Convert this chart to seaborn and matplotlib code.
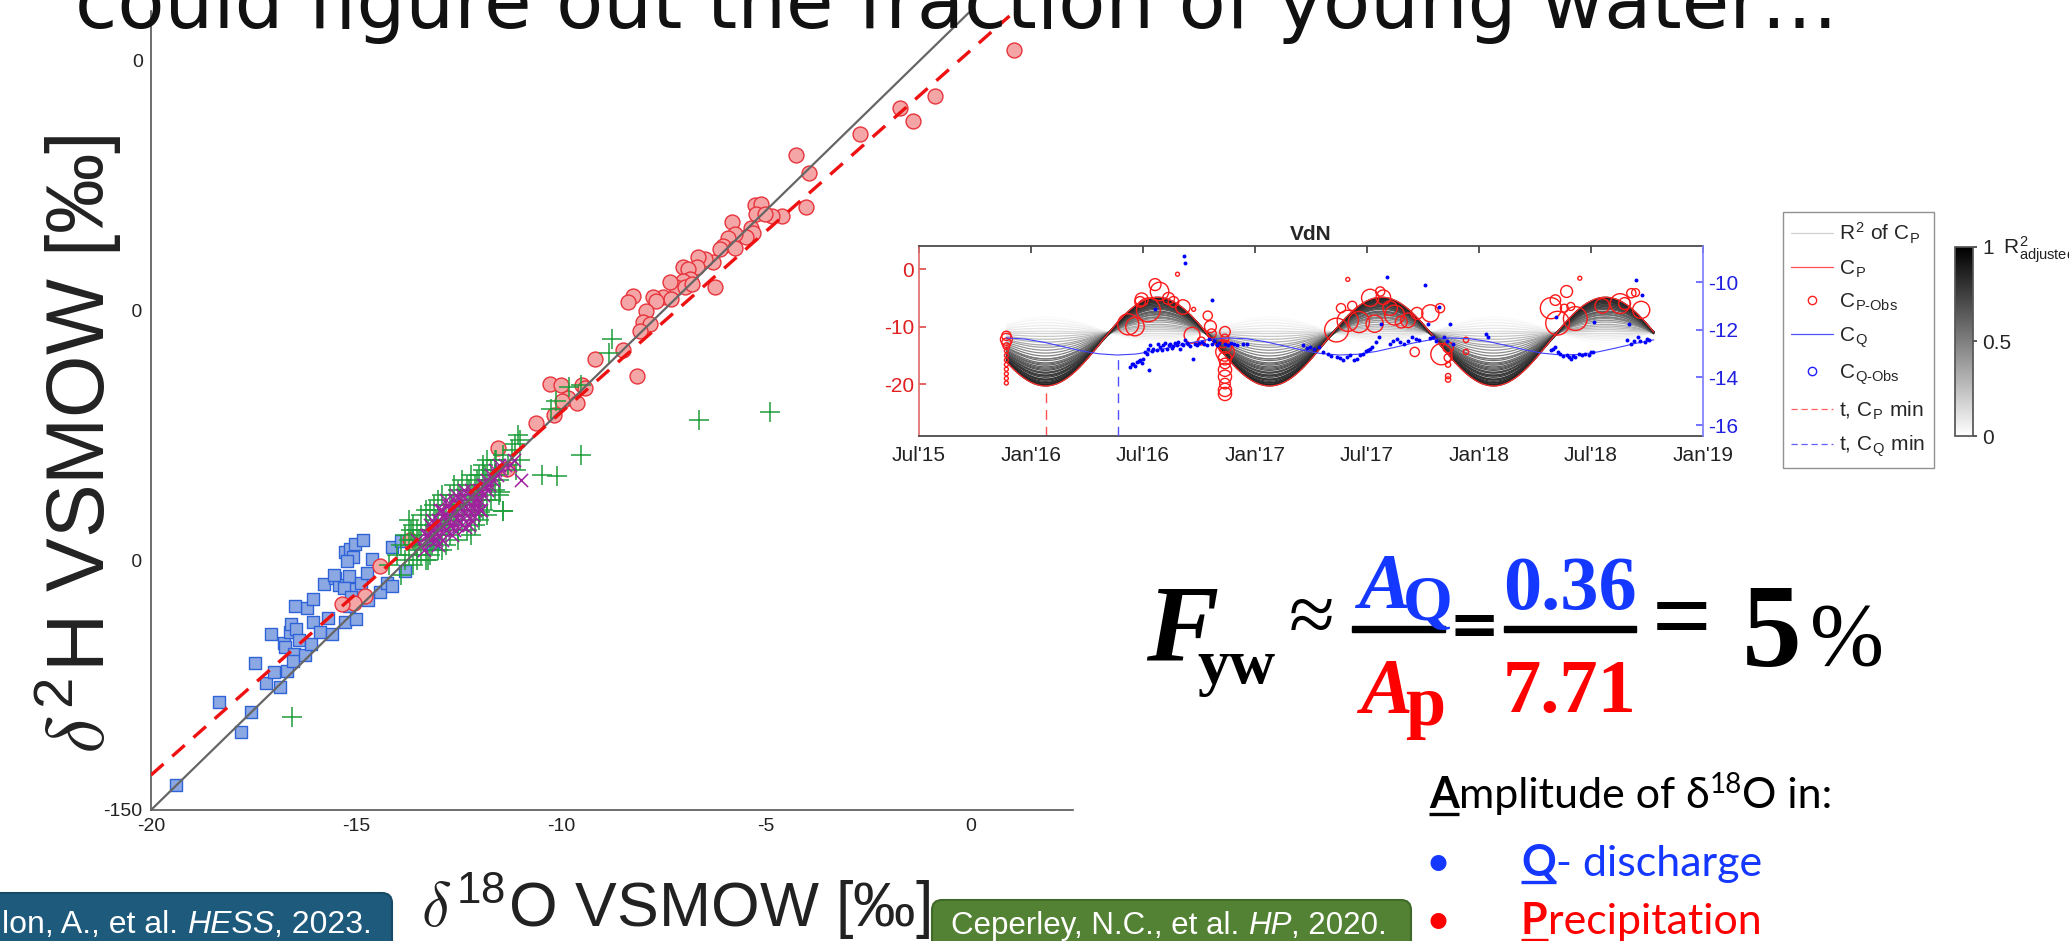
import matplotlib
matplotlib.use("Agg")
import matplotlib.pyplot as plt
import numpy as np
import seaborn as sns
from matplotlib.lines import Line2D
from matplotlib.patches import FancyBboxPatch, Rectangle
from matplotlib.cm import ScalarMappable
from matplotlib.colors import Normalize

W, H = 2069, 941

# ---------------- main dual-isotope plot (d18O vs d2H, permil) ----------------
precip_x = [1.06, -0.87, -1.71, -1.41, -2.71, -4.25, -3.94, -4.02, -4.59, -4.84, -5.27, -5.11,
            -5.23, -5.02, -5.35, -5.31, -5.47, -5.82, -5.76, -5.92, -6.04, -6.12, -5.76, -6.29,
            -6.49, -6.65, -7.02, -6.67, -6.89, -6.85, -7.02, -7.18, -7.34, -6.98, -6.79, -6.23,
            -7.50, -7.30, -7.75, -7.67, -8.24, -8.36, -7.91, -7.99, -7.83, -8.07, -8.48, -8.13,
            -9.17, -10.27, -10.00, -9.49, -9.41, -9.83, -9.98, -9.61, -10.17, -10.61, -11.54,
            -11.32, -14.41, -14.78, -15.05, -15.34, -13.68]
precip_y = [2.2, -7.0, -9.5, -12.0, -14.7, -18.8, -22.5, -29.3, -31.0, -31.1, -28.8, -28.7,
            -30.7, -30.7, -33.5, -34.5, -35.3, -32.3, -34.7, -35.5, -37.1, -37.7, -37.5, -40.2,
            -39.7, -39.3, -41.2, -41.3, -41.7, -43.7, -44.0, -45.3, -44.3, -45.3, -44.7, -45.3,
            -47.2, -47.7, -47.3, -48.0, -47.0, -48.3, -50.0, -52.3, -52.7, -54.0, -57.9, -63.0,
            -59.6, -64.6, -64.8, -64.8, -65.4, -67.4, -68.0, -68.4, -71.0, -72.6, -77.6,
            -81.8, -101.2, -107.2, -108.6, -108.8, -96.0]

snow_x = [-19.40, -17.80, -17.56, -18.33, -17.46, -17.19, -16.86, -17.01, -16.69, -17.08, -16.76,
          -16.74, -16.61, -16.58, -16.45, -16.51, -16.54, -16.39, -16.23, -16.19, -16.48, -16.04,
          -16.04, -16.10, -15.87, -15.69, -15.58, -15.77, -15.50, -15.42, -15.54, -15.27, -15.15,
          -15.02, -14.83, -15.08, -15.22, -15.18, -15.02, -14.87, -14.61, -14.72, -14.40, -14.25,
          -14.11, -13.80, -14.13, -13.90, -15.27, -14.99, -15.30, -15.12, -14.71, -13.13, -15.16]
snow_y = [-145.0, -134.3, -130.3, -128.3, -120.5, -124.5, -125.3, -122.3, -122.2, -114.7, -116.5,
          -117.3, -114.3, -112.7, -113.7, -118.7, -120.1, -116.0, -119.0, -109.5, -109.2, -107.8,
          -112.3, -116.8, -114.3, -111.5, -114.8, -104.7, -103.5, -105.0, -103.0, -98.3, -97.7,
          -96.7, -95.9, -99.3, -100.2, -103.2, -105.7, -104.5, -99.7, -102.5, -106.3, -104.5,
          -105.2, -102.1, -97.3, -96.1, -112.3, -111.8, -105.5, -107.3, -108.0, -96.7, -109.2]

stream_x = [-13.9, -13.8, -13.7, -13.6, -13.6, -13.5, -13.5, -13.4, -13.4, -13.3, -13.3, -13.2,
            -13.2, -13.1, -13.1, -13.0, -13.0, -13.0, -12.9, -12.9, -12.8, -12.8, -12.7, -12.7,
            -12.6, -12.6, -12.5, -12.5, -12.4, -12.4, -12.3, -12.3, -12.2, -12.2, -12.1, -12.1,
            -12.0, -12.0, -11.9, -11.9, -11.8, -11.8, -11.7, -11.7, -11.6, -11.6, -11.5, -12.9,
            -13.7, -12.5, -12.0, -11.8, -11.9, -13.3, -12.2,
            -14.2, -14.0, -13.9, -13.8, -13.7, -13.6, -13.5, -13.4, -13.3, -13.2, -13.1, -13.0,
            -12.9, -12.8, -12.7, -12.6, -12.5, -12.4, -12.3, -12.2, -12.1, -12.0, -11.9, -11.8,
            -11.7, -11.6, -11.5, -11.4, -11.3, -11.2, -11.1, -11.0, -13.65, -13.45, -13.25,
            -13.05, -12.85, -12.65, -12.45, -12.25, -12.05, -11.85, -11.65, -12.75, -12.35,
            -11.95, -13.15, -13.55, -12.55, -12.15,
            -8.74, -8.82, -4.89, -6.63, -9.50, -10.47, -10.09, -11.41, -9.80, -9.50, -10.12,
            -10.23, -11.04, -11.12, -11.00, -11.57, -11.49, -16.57, -13.24, -11.41, -11.98]
stream_y = [-97, -95, -99, -96, -93, -98, -94, -95, -91, -97, -93, -95,
            -90, -93, -96, -91, -94, -88, -92, -95, -89, -93, -91, -87,
            -93, -89, -90, -86, -92, -88, -89, -85, -87, -91, -85, -89,
            -87, -83, -86, -90, -84, -88, -85, -82, -86, -83, -84, -98,
            -92, -94, -91, -80, -81, -100, -95,
            -101, -99, -103, -100, -96, -101, -100, -99, -90, -99, -89, -98,
            -87, -97, -95, -85, -96, -84, -94, -83, -93, -92, -82, -91,
            -88, -80, -87, -79, -81, -78, -82, -80, -94, -96, -94,
            -92, -91, -89, -87, -86, -84, -83, -84, -93, -90,
            -88, -97, -97, -91, -87,
            -55.7, -58.5, -70.3, -71.9, -79.0, -83.0, -83.2, -90.2, -65.3, -64.8, -68.0,
            -69.7, -75.0, -76.7, -75.9, -80.0, -86.3, -131.3, -100.0, -90.1, -90.3]

gw_x = [-13.4, -13.3, -13.2, -13.2, -13.1, -13.0, -13.0, -12.9, -12.9, -12.8, -12.8, -12.7,
        -12.7, -12.6, -12.6, -12.5, -12.5, -12.4, -12.4, -12.3, -12.3, -12.2, -12.2, -12.1,
        -12.1, -12.0, -12.0, -11.9, -11.9, -11.8, -11.8, -11.7, -12.6, -13.0, -12.4, -12.8,
        -11.6, -11.5, -12.9, -12.2, -10.98, -12.34, -11.98,
        -13.5, -13.35, -13.25, -13.15, -13.05, -12.95, -12.85, -12.75, -12.65, -12.55, -12.45,
        -12.35, -12.25, -12.15, -12.05, -11.95, -11.85, -11.75, -11.65, -11.55, -11.45, -11.35,
        -11.25, -11.15, -12.75, -12.55, -12.35, -12.95, -13.15, -12.25, -11.95, -12.65, -13.05,
        -12.45, -12.15]
gw_y = [-97, -95, -96, -93, -94, -95, -92, -93, -90, -92, -94, -90,
        -93, -91, -88, -92, -89, -90, -87, -91, -88, -89, -86, -88,
        -90, -86, -88, -85, -87, -84, -86, -83, -94, -97, -93, -88,
        -82, -81, -96, -92, -84.0, -93.3, -90.0,
        -96, -98, -95, -92, -96, -94, -91, -92, -90, -93, -88,
        -89, -90, -87, -89, -86, -85, -85, -84, -83, -82, -81,
        -81, -80, -89, -87, -86, -90, -95, -93, -90, -95, -93,
        -91, -91]

gmwl_x = [-20, 0]
gmwl_y = [-150, 10]
lmwl_x = [-20, 0.95]
lmwl_y = [-143, 9]

main_xticks = [-20, -15, -10, -5, 0]
main_yticks = [-150, -100, -50, 0]

# ---------------- inset: VdN seasonal sine fits ----------------
inset_xticks = [2015.5, 2016.0, 2016.5, 2017.0, 2017.5, 2018.0, 2018.5, 2019.0]
inset_xlabels = ["Jul'15", "Jan'16", "Jul'16", "Jan'17", "Jul'17", "Jan'18", "Jul'18", "Jan'19"]

fit_start, fit_end = 2015.89, 2018.78
cp_amp, cp_off, cp_trough = 7.71, -12.6, 2016.065
cq_amp, cq_off, cq_trough = 0.36, -12.7, 2016.39

ens_amp = [-2.2, -1.8, -1.4, -1.0, -0.6, -0.2, 0.2, 0.6, 1.0, 1.4, 1.8, 2.2, 2.6, 3.0, 3.4, 3.8,
           4.1, 4.4, 4.7, 5.0, 5.3, 5.5, 5.7, 5.9, 6.1, 6.3, 6.5, 6.7, 6.9, 7.0, 7.2, 7.3, 7.4,
           7.5, 7.6, 7.7, 6.0, 6.6, 7.1, 5.6, 4.9, 4.3, 3.6]
ens_off = [-10.6, -10.6, -10.7, -10.8, -10.9, -11.0, -11.0, -11.1, -11.2, -11.3, -11.4, -11.4,
           -11.5, -11.6, -11.7, -11.8, -11.8, -11.9, -12.0, -12.0, -12.1, -12.1, -12.2, -12.2,
           -12.3, -12.3, -12.3, -12.4, -12.4, -12.5, -12.5, -12.5, -12.6, -12.6, -12.6, -12.6,
           -12.5, -12.6, -12.7, -12.4, -12.3, -12.2, -12.0]
ens_r2 = [0.02, 0.04, 0.06, 0.08, 0.10, 0.14, 0.18, 0.22, 0.26, 0.30, 0.34, 0.38, 0.42, 0.46,
          0.50, 0.53, 0.56, 0.59, 0.62, 0.65, 0.67, 0.69, 0.71, 0.73, 0.75, 0.77, 0.78, 0.79,
          0.80, 0.81, 0.82, 0.83, 0.84, 0.85, 0.86, 0.87, 0.74, 0.79, 0.82, 0.70, 0.63, 0.58, 0.52]

cp_obs_t = [2015.89] * 12 + [
    2016.434, 2016.464, 2016.494, 2016.487, 2016.524, 2016.554, 2016.574, 2016.614, 2016.636,
    2016.678, 2016.654, 2016.726, 2016.719, 2016.789, 2016.801, 2016.806, 2016.760] + [2016.866] * 11 + [
    2016.856,
    2017.364, 2017.414, 2017.434, 2017.464, 2017.514, 2017.534, 2017.573, 2017.559, 2017.603,
    2017.623, 2017.653, 2017.683, 2017.723, 2017.783, 2017.826, 2017.713, 2017.414, 2017.384,
    2017.832, 2017.862, 2017.862, 2017.862, 2017.862, 2017.862, 2017.942, 2017.942,
    2018.321, 2018.341, 2018.391, 2018.381, 2018.410, 2018.351, 2018.430, 2018.450, 2018.550,
    2018.630, 2018.650, 2018.680, 2018.699, 2018.724]
cp_obs_v = [-11.6, -12.2, -12.8, -13.4, -14.2, -15.0, -15.8, -16.6, -17.4, -18.2, -19.0, -19.8,
            -9.6, -10.0, -5.3, -5.7, -7.1, -2.7, -3.9, -5.1, -5.7, -6.6, -0.9, -7.0, -11.5, -8.1,
            -10.0, -11.2, -12.5,
            -10.9, -12.0, -13.5, -14.4, -15.5, -16.4, -17.5, -18.7, -19.9, -21.0, -21.7, -13.0,
            -10.6, -9.0, -6.4, -9.2, -5.0, -9.5, -4.9, -3.9, -6.8, -8.0, -9.2, -8.9, -7.7, -7.7,
            -6.8, -14.4, -1.8, -6.8,
            -14.8, -13.6, -15.4, -16.6, -18.6, -19.2, -12.3, -14.4,
            -6.8, -5.4, -3.9, -6.8, -6.5, -9.4, -8.6, -1.6, -6.4, -6.0, -6.0, -4.2, -4.1, -7.1]
cp_obs_d = [7, 9, 7, 5, 3, 3, 3, 3, 3, 3, 3, 3,
            16, 14, 10, 8, 18, 9, 14, 9, 8, 11, 3, 3, 12, 7, 9, 7, 6,
            8, 6, 10, 14, 10, 8, 10, 10, 8, 10, 10, 6,
            18, 16, 7, 16, 13, 13, 11, 7, 11, 15, 9, 11, 9, 13, 7, 7, 3, 7,
            16, 8, 6, 4, 4, 4, 4, 4,
            16, 8, 9, 6, 6, 18, 18, 3, 11, 15, 9, 7, 6, 13]

cq_obs_t = [2016.442, 2016.450, 2016.457, 2016.465, 2016.472, 2016.480, 2016.487, 2016.495,
            2016.502, 2016.509, 2016.516, 2016.524, 2016.528, 2016.531, 2016.538, 2016.546,
            2016.554, 2016.561, 2016.568, 2016.576, 2016.584, 2016.591, 2016.598, 2016.606,
            2016.614, 2016.621, 2016.628, 2016.635, 2016.643, 2016.650, 2016.658, 2016.665,
            2016.672, 2016.680, 2016.685, 2016.686, 2016.688, 2016.695, 2016.702, 2016.710,
            2016.722, 2016.730, 2016.740, 2016.750, 2016.762, 2016.772, 2016.784, 2016.795,
            2016.806, 2016.807, 2016.818, 2016.829, 2016.840, 2016.866, 2016.880, 2016.895,
            2016.906, 2016.920, 2016.946, 2016.966, 2017.215, 2017.230, 2017.245, 2017.265,
            2017.285, 2017.305, 2017.324, 2017.340, 2017.364, 2017.380, 2017.394, 2017.410,
            2017.424, 2017.440, 2017.454, 2017.470, 2017.484, 2017.494, 2017.504, 2017.514,
            2017.524, 2017.540, 2017.554, 2017.564, 2017.588, 2017.603, 2017.618, 2017.633,
            2017.648, 2017.663, 2017.683, 2017.703, 2017.718, 2017.733, 2017.759, 2017.773,
            2017.783, 2017.793, 2017.808, 2017.823, 2017.843, 2017.858, 2017.872, 2017.882,
            2018.032, 2018.042, 2018.321, 2018.331, 2018.341, 2018.345, 2018.351, 2018.361,
            2018.376, 2018.391, 2018.400, 2018.410, 2018.420, 2018.430, 2018.445, 2018.460,
            2018.475, 2018.490, 2018.500, 2018.510, 2018.512, 2018.660, 2018.670, 2018.680,
            2018.690, 2018.699, 2018.709, 2018.719, 2018.729, 2018.739, 2018.749, 2018.759]
cq_obs_v = [-13.57, -13.45, -13.43, -13.50, -13.35, -13.30, -13.28, -13.40, -13.21, -12.95,
            -13.00, -12.80, -13.70, -12.65, -12.90, -12.79, -11.11, -12.86, -12.60, -12.72,
            -12.85, -12.65, -12.55, -12.79, -12.62, -12.58, -12.75, -12.69, -12.55, -12.65,
            -12.50, -12.79, -12.60, -12.65, -8.90, -9.21, -12.44, -12.55, -12.58, -12.70,
            -13.21, -12.60, -12.65, -12.55, -12.51, -12.60, -12.65, -12.40, -10.76, -12.58,
            -12.45, -12.65, -12.55, -12.58, -12.62, -12.55, -12.58, -12.65, -12.61, -12.58,
            -12.65, -12.75, -12.72, -12.80, -12.72, -12.95, -13.00, -13.10, -13.14, -13.20,
            -13.28, -13.15, -13.07, -13.25, -13.21, -13.05, -13.00, -12.90, -12.86, -12.80,
            -12.72, -12.50, -12.30, -11.74, -9.80, -12.58, -12.45, -12.37, -12.50, -12.58,
            -12.45, -12.30, -12.40, -12.44, -10.13, -11.74, -12.35, -12.30, -12.45, -11.04,
            -12.30, -12.45, -11.74, -12.58, -12.16, -12.30, -12.86, -12.80, -12.72, -11.46,
            -12.95, -13.00, -13.10, -13.07, -13.15, -13.21, -13.10, -13.14, -13.00, -13.07,
            -13.00, -13.07, -12.95, -12.93, -11.67, -12.44, -11.74, -12.58, -12.45, -9.89,
            -12.30, -12.45, -10.55, -12.51, -12.40, -12.44]


def px_rect(l, t, r, b):
    return [l / W, 1 - b / H, (r - l) / W, (b - t) / H]


sns.set_theme(style="white")
plt.rcParams["font.family"] = ["Liberation Sans", "DejaVu Sans"]
plt.rcParams["mathtext.fontset"] = "cm"
plt.rcParams["axes.unicode_minus"] = False

fig = plt.figure(figsize=(W / 100, H / 100), dpi=100)
fig.patch.set_facecolor("white")

# ---- main scatter
ax = fig.add_axes(px_rect(151, 11, 1073, 810))
sns.scatterplot(x=snow_x, y=snow_y, marker="s", s=85, color=(0.55, 0.66, 0.89),
                edgecolor="#2f63d8", linewidth=1.0, ax=ax, zorder=2)
sns.scatterplot(x=precip_x, y=precip_y, marker="o", s=115, color="#f4a6a6",
                edgecolor="#e8333b", linewidth=1.0, ax=ax, zorder=3)
sns.scatterplot(x=stream_x, y=stream_y, marker="+", s=190, color="#1d9e3a",
                linewidth=1.1, ax=ax, zorder=4)
sns.scatterplot(x=gw_x, y=gw_y, marker="x", s=90, color="#a1209e",
                linewidth=1.1, ax=ax, zorder=5)
ax.plot(gmwl_x, gmwl_y, color="#666666", lw=1.6, zorder=6)
ax.plot(lmwl_x, lmwl_y, color="#ee1111", lw=2.4, ls=(0, (5, 3.5)), zorder=7)
ax.set_xlim(-20, 2.5)
ax.set_ylim(-150, 10)
ax.set_xticks(main_xticks)
ax.set_yticks(main_yticks)
ax.tick_params(direction="in", length=7, width=1, color="#555555", labelsize=14,
               labelcolor="#222222", pad=6)
for side in ["top", "right"]:
    ax.spines[side].set_visible(False)
for side in ["left", "bottom"]:
    ax.spines[side].set_color("#555555")
    ax.spines[side].set_linewidth(1.2)
ax.set_xlabel("")
ax.set_ylabel("")

# ---- inset
ins = fig.add_axes(px_rect(919, 246, 1703, 436))
ins2 = ins.twinx()
t_fit = np.linspace(fit_start, fit_end, 400)
for i in np.argsort(ens_r2):
    ins.plot(t_fit, ens_off[i] - ens_amp[i] * np.cos(2 * np.pi * (t_fit - cp_trough)),
             color=plt.cm.gray_r(ens_r2[i]), lw=0.9, zorder=1)
ins.plot(t_fit, cp_off - cp_amp * np.cos(2 * np.pi * (t_fit - cp_trough)),
         color="#ff3030", lw=0.9, zorder=2)
ins.scatter(cp_obs_t, cp_obs_v, s=(np.array(cp_obs_d) * 0.95) ** 2, facecolors="none",
            edgecolors="#ff1a1a", linewidths=1.0, zorder=3)
ins.plot([cp_trough, cp_trough], [-29, cp_off - cp_amp], color="#ff5050", lw=1.0,
         ls=(0, (7, 5)), zorder=2)
t_q = np.linspace(fit_start, fit_end, 36)
ins2.plot(t_q, cq_off - cq_amp * np.cos(2 * np.pi * (t_q - cq_trough)), color="#4040ff", lw=0.8)
ins2.scatter(cq_obs_t, cq_obs_v, s=8, color="#0000ff", linewidths=0, zorder=4)
ins2.plot([cq_trough, cq_trough], [-16.46, cq_off - cq_amp], color="#5050ff", lw=1.0,
          ls=(0, (7, 5)))
ins.set_xlim(2015.5, 2019.0)
ins.set_ylim(-29, 4)
ins2.set_ylim(-16.46, -8.48)
ins.set_xticks(inset_xticks)
ins.set_xticklabels(inset_xlabels)
ins.set_yticks([-20, -10, 0])
ins2.set_yticks([-16, -14, -12, -10])
ins.tick_params(axis="x", direction="in", top=True, length=5, labelsize=15, pad=7,
                color="#444444", labelcolor="#222222")
ins.tick_params(axis="y", direction="in", length=5, labelsize=15, color="#e05050",
                labelcolor="#e02020")
ins2.tick_params(axis="y", direction="in", length=5, labelsize=15, color="#6060ff",
                 labelcolor="#2020e0")
ins.spines["left"].set_color("#e07070")
ins.spines["right"].set_visible(False)
for side in ["top", "bottom"]:
    ins.spines[side].set_color("#444444")
for side in ["left", "top", "bottom"]:
    ins2.spines[side].set_visible(False)
ins2.spines["right"].set_color("#8080ff")
ins.set_title("VdN", fontsize=15, fontweight="bold", pad=4)

# ---- colorbar
cax = fig.add_axes(px_rect(1955, 247, 1973, 436))
cb = fig.colorbar(ScalarMappable(Normalize(0, 1), "gray_r"), cax=cax, ticks=[0, 0.5, 1])
cb.ax.set_yticklabels(["0", "0.5", "1"])
cb.ax.tick_params(labelsize=15, length=3, color="#444444")
cb.outline.set_edgecolor("#555555")

# ---- overlay in pixel coordinates
ov = fig.add_axes([0, 0, 1, 1])
ov.set_xlim(0, W)
ov.set_ylim(H, 0)
ov.axis("off")
rend = fig.canvas.get_renderer()


def chain(x, y, parts, **base):
    boxes = []
    for s, kw in parts:
        opts = dict(base)
        opts.update(kw)
        dy = opts.pop("dy", 0)
        t = ov.text(x, y - dy, s, ha="left", va="baseline", **opts)
        bb = t.get_window_extent(renderer=rend)
        boxes.append(bb)
        x = bb.x1
    return boxes


def underline(bb, y, color):
    ov.plot([bb.x0, bb.x1], [y, y], color=color, lw=2.4, solid_capstyle="butt")


ov.text(75, 28, "could figure out the fraction of young water…", fontsize=55.5,
        family="DejaVu Sans", color="#111111", va="baseline", ha="left")

# white patch that hides the left part of two y tick labels (as in the slide)
ov.add_patch(Rectangle((0, 140), 131, 520, color="white", zorder=1))
ov.text(78, 444, r"$\delta^{\mathregular{2}}$H VSMOW [‰]", rotation=90, ha="center",
        va="center", fontsize=58, color="#222222", zorder=2)
ov.text(676, 928, r"$\delta^{\mathregular{18}}$O VSMOW [‰]", ha="center", va="baseline",
        fontsize=45, color="#222222")

# citation boxes
ov.add_patch(FancyBboxPatch((-20, 893), 412, 80, boxstyle="round,pad=0,rounding_size=10",
                            fc="#1e5a7b", ec="#174a66", lw=1.5))
chain(2, 933, [("lon, A., et al. ", {}), ("HESS", {"style": "italic"}), (", 2023.", {})],
      fontsize=23, color="white")
ov.add_patch(FancyBboxPatch((932, 900), 479, 80, boxstyle="round,pad=0,rounding_size=10",
                            fc="#548235", ec="#3f6a28", lw=1.5))
chain(951, 934, [("Ceperley, N.C., et al. ", {}), ("HP", {"style": "italic"}), (", 2020.", {})],
      fontsize=22.5, color="white")

# equation
blue, red = "#1438ff", "#ff0000"
serif = ["Liberation Serif", "DejaVu Serif"]
ov.text(1146, 660, "F", family=serif, fontsize=78, weight="bold", style="italic", color="black")
ov.text(1197, 683, "yw", family=serif, fontsize=46, weight="bold", color="black")
ov.text(1312, 622, "≈", family=serif, fontsize=60, color="black", ha="center", va="center")
ov.text(1358, 607, "A", family=serif, fontsize=56, weight="bold", style="italic", color=blue)
ov.text(1403, 620, "Q", family=serif, fontsize=46, weight="bold", color=blue)
ov.add_patch(Rectangle((1352, 626), 93, 6, color="black"))
ov.text(1360, 712, "A", family=serif, fontsize=56, weight="bold", style="italic", color=red)
ov.text(1405, 725, "p", family=serif, fontsize=52, weight="bold", color=red)
ov.text(1474, 628, "=", family="DejaVu Sans", fontsize=44, weight="bold", color="black",
        ha="center", va="center")
ov.text(1570, 609, "0.36", family=serif, fontsize=55, weight="bold", color=blue, ha="center")
ov.add_patch(Rectangle((1504, 626), 132, 6, color="black"))
ov.text(1570, 712, "7.71", family=serif, fontsize=55, weight="bold", color=red, ha="center")
ov.text(1682, 626, "=", family=serif, fontsize=76, weight="bold", color="black",
        ha="center", va="center")
ov.text(1742, 666, "5", family=serif, fontsize=86, weight="bold", color="black")
ov.text(1810, 664, "%", family=serif, fontsize=64, color="black")

# amplitude notes
sans = ["Lato", "DejaVu Sans"]
b = chain(1429, 808, [("A", {"weight": "bold"}), ("mplitude of δ", {}),
                      ("18", {"fontsize": 20, "dy": 15}), ("O in:", {})],
          family=sans, fontsize=31, color="black")
underline(b[0], 814, "black")
ov.text(1438, 876, "•", family=sans, fontsize=31, color=blue, ha="center")
b = chain(1521, 876, [("Q", {"weight": "bold"}), ("- discharge", {})],
          family=sans, fontsize=31, color=blue)
underline(b[0], 882, blue)
ov.text(1438, 934, "•", family=sans, fontsize=31, color=red, ha="center")
b = chain(1521, 934, [("P", {"weight": "bold"}), ("recipitation", {})],
          family=sans, fontsize=31, color=red)
underline(b[0], 940, red)

# inset legend
handles = [
    Line2D([], [], color="#d0d0d0", lw=0.9),
    Line2D([], [], color="#ff5050", lw=0.9),
    Line2D([], [], ls="", marker="o", mfc="none", mec="#ff2020", ms=6),
    Line2D([], [], color="#5050ff", lw=0.9),
    Line2D([], [], ls="", marker="o", mfc="none", mec="#2020ff", ms=6),
    Line2D([], [], color="#ff6060", lw=0.9, ls=(0, (5, 3))),
    Line2D([], [], color="#6060ff", lw=0.9, ls=(0, (5, 3))),
]
labels = [r"R$^\mathregular{2}$ of C$_\mathregular{P}$", r"C$_\mathregular{P}$",
          r"C$_\mathregular{P‐Obs}$", r"C$_\mathregular{Q}$", r"C$_\mathregular{Q‐Obs}$",
          r"t, C$_\mathregular{P}$ min", r"t, C$_\mathregular{Q}$ min"]
leg = ov.legend(handles, labels, loc="upper left", bbox_to_anchor=(1783 / W, 1 - 212 / H),
                bbox_transform=fig.transFigure, fontsize=15, frameon=True, fancybox=False,
                edgecolor="#777777", labelspacing=0.58, handlelength=2.0, handletextpad=0.3,
                borderpad=0.4, borderaxespad=0)
leg.get_frame().set_linewidth(1.0)
ov.text(2003, 254, r"R$^\mathregular{2}_\mathregular{adjusted}$", fontsize=15, color="#222222",
        va="baseline")

fig.savefig("out.png", dpi=100, facecolor="white")
